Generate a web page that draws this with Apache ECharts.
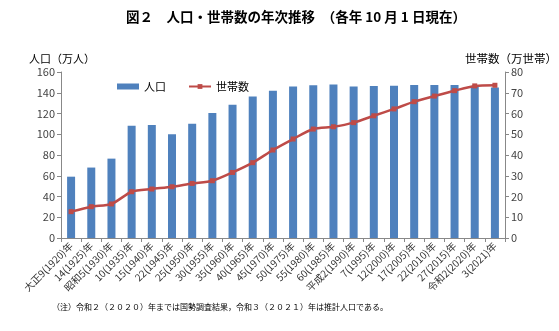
<!DOCTYPE html>
<html><head><meta charset="utf-8">
<script src="https://cdn.jsdelivr.net/npm/echarts@6/dist/echarts.min.js"></script>
<style>html,body{margin:0;padding:0;background:#fff}#c{width:559px;height:331px}</style>
</head><body><div id="c"></div>
<script>
const categories = ["大正9(1920)年","14(1925)年","昭和5(1930)年","10(1935)年","15(1940)年","22(1945)年","25(1950)年","30(1955)年","35(1960)年","40(1965)年","45(1970)年","50(1975)年","55(1980)年","60(1985)年","平成2(1990)年","7(1995)年","12(2000)年","17(2005)年","22(2010)年","27(2015)年","令和2(2020)年","3(2021)年"];
const population = [59.1,67.9,76.5,108.1,109.0,100.0,110.2,120.4,128.5,136.5,141.9,146.1,147.3,147.9,146.1,146.4,146.8,147.5,147.4,147.5,146.4,145.0];
const households = [12.7,15.1,16.4,22.3,23.6,24.7,26.3,27.6,31.6,36.3,42.4,47.7,52.5,53.6,55.6,58.9,62.2,65.7,68.4,71.0,73.3,73.6];
const leftTicks = [0,20,40,60,80,100,120,140,160];
const rightTicks = [0,10,20,30,40,50,60,70,80];
const FONT = '"Noto Sans CJK JP", sans-serif';
const chart = echarts.init(document.getElementById('c'), null, {renderer:'canvas'});
chart.setOption({
  animation:false,
  textStyle:{fontFamily:FONT},
  title:{text:'図２　人口・世帯数の年次推移　（各年 10 月 1 日現在）',left:121,top:5,
    textStyle:{fontSize:13.5,fontWeight:'bold',color:'#000',fontFamily:FONT}},
  legend:{top:76,left:112,itemGap:22,itemWidth:22,itemHeight:6,
    textStyle:{fontSize:11,color:'#000',fontFamily:FONT},
    data:[{name:'人口',icon:'rect'},{name:'世帯数'}]},
  grid:{left:61,right:54,top:72,bottom:93},
  graphic:[
    {type:'text',left:29,top:53,style:{text:'人口（万人）',fontSize:11,fill:'#000',fontFamily:FONT}},
    {type:'text',right:2,top:53,style:{text:'世帯数（万世帯）',fontSize:11.5,fill:'#000',fontFamily:FONT}},
    {type:'text',left:52,top:303,style:{text:'（注）令和２（２０２０）年までは国勢調査結果，令和３（２０２１）年は推計人口である。',fontSize:8,fill:'#000',fontFamily:FONT}}
  ],
  xAxis:{type:'category',data:categories,
    axisLine:{lineStyle:{color:'#888'}},
    axisTick:{show:true,alignWithLabel:false,length:4,lineStyle:{color:'#888'}},
    axisLabel:{rotate:45,interval:0,fontSize:10,color:'#333',margin:6,fontFamily:FONT}},
  yAxis:[
    {type:'value',min:0,max:160,interval:20,position:'left',
      axisLine:{show:true,lineStyle:{color:'#888'}},
      axisTick:{show:true,length:4,lineStyle:{color:'#888'}},
      splitLine:{show:false},
      axisLabel:{fontSize:11,color:'#444',margin:6,fontFamily:FONT,
        formatter:v=>leftTicks.includes(v)?String(v):''}},
    {type:'value',min:0,max:80,interval:10,position:'right',
      axisLine:{show:true,lineStyle:{color:'#888'}},
      axisTick:{show:true,length:4,lineStyle:{color:'#888'}},
      splitLine:{show:false},
      axisLabel:{fontSize:11,color:'#444',margin:6,fontFamily:FONT,
        formatter:v=>rightTicks.includes(v)?String(v):''}}
  ],
  series:[
    {name:'人口',type:'bar',data:population,barWidth:8,yAxisIndex:0,
      itemStyle:{color:'#4F81BD'}},
    {name:'世帯数',type:'line',data:households,yAxisIndex:1,smooth:0.25,
      symbol:'rect',symbolSize:5,
      lineStyle:{color:'#BE4B48',width:2.5},itemStyle:{color:'#BE4B48'}}
  ]
});
</script></body></html>
